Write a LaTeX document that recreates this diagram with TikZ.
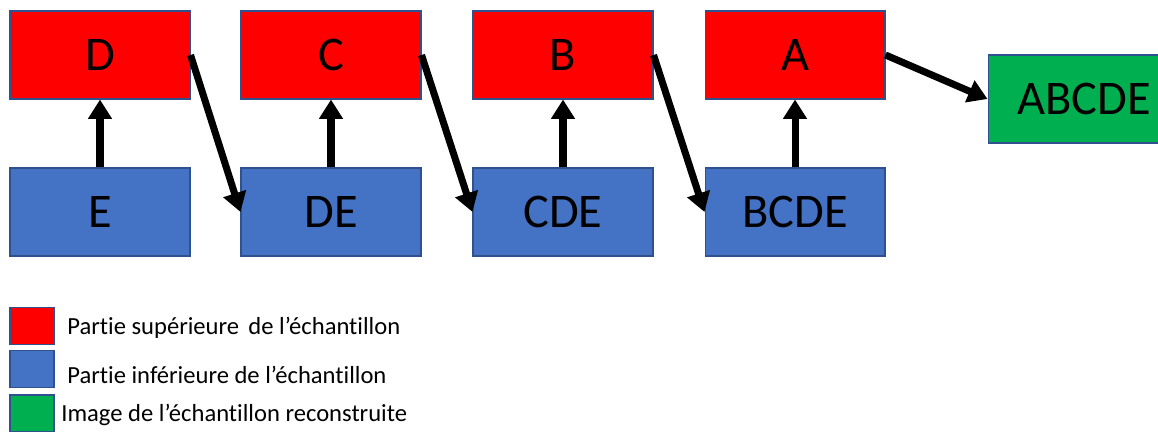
\documentclass[tikz,border=0pt]{standalone}
\usepackage{fontspec}
\setmainfont{Carlito}[Ligatures={TeX,NoCommon}]
\usetikzlibrary{arrows.meta}
\definecolor{haut}{HTML}{FF0000}
\definecolor{bas}{HTML}{4472C4}
\definecolor{image}{HTML}{00B050}
\definecolor{bord}{HTML}{2F528F}

\begin{document}
\begin{tikzpicture}[x=0.02cm, y=-0.02cm,
  bloc/.style={draw=bord, line width=0.6pt, minimum width=3.6cm, minimum height=1.76cm,
    inner sep=0pt, font=\fontsize{27.5}{32}\selectfont},
  carre/.style={draw=bord, line width=0.6pt, minimum width=0.88cm, minimum height=0.74cm, inner sep=0pt},
  legende/.style={anchor=west, inner sep=0pt, font=\fontsize{14}{17}\selectfont},
  fleche/.style={line width=4pt, -{Triangle[length=11pt, width=13pt]}}]
  \clip (0,0) rectangle (1158,432);
  % Nodes
  \node[bloc,fill=haut] (D) at (100,55) {D};
  \node[bloc,fill=haut] (C) at (331,55) {C};
  \node[bloc,fill=haut] (B) at (563,55) {B};
  \node[bloc,fill=haut] (A) at (795,55) {A};
  \node[bloc,fill=bas] (E) at (100,212) {E};
  \node[bloc,fill=bas] (DE) at (331,212) {DE};
  \node[bloc,fill=bas] (CDE) at (563,212) {CDE};
  \node[bloc,fill=bas] (BCDE) at (795,212) {BCDE};
  \node[bloc,fill=image,minimum width=3.84cm] (ABCDE) at (1084,99) {ABCDE};
  % Edges
  \draw[fleche] (E) -- (D);
  \draw[fleche] (DE) -- (C);
  \draw[fleche] (CDE) -- (B);
  \draw[fleche] (BCDE) -- (A);
  \draw[fleche] (D.east) -- (DE.west);
  \draw[fleche] (C.east) -- (CDE.west);
  \draw[fleche] (B.east) -- (BCDE.west);
  \draw[fleche] (A.east) -- (ABCDE.west);
  % Legend
  \node[carre,fill=haut] (Lhaut) at (32,326) {};
  \node[carre,fill=bas] (Lbas) at (32,369) {};
  \node[carre,fill=image] (Limage) at (32,413.5) {};
  \node[legende] (Thaut) at (67,328) {Partie supérieure \hspace{0.15em}de l’échantillon};
  \node[legende] (Tbas) at (67,375) {Partie inférieure de l’échantillon};
  \node[legende] (Timage) at (61,415) {Image de l’échantillon reconstruite};
\end{tikzpicture}
\end{document}
